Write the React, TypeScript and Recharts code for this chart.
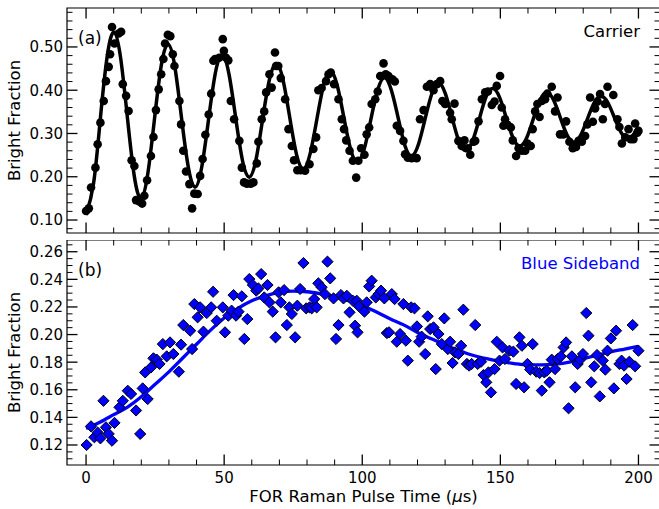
import React from "react";
import {
  ComposedChart,
  Line,
  Scatter,
  XAxis,
  YAxis,
  ReferenceArea,
} from "recharts";

const carrierTimes = [
  0.0, 1.0, 1.8, 3.4, 4.2, 5.2, 6.4, 7.2, 8.2, 8.7,
  9.4, 10.3, 11.8, 12.7, 13.3, 14.5, 15.4, 16.5, 17.5, 18.1,
  19.3, 20.3, 21.1, 22.1, 23.5, 24.4, 25.3, 26.3, 27.2, 28.0,
  28.6, 29.6, 30.5, 31.4, 32.0, 33.8, 34.4, 35.2, 36.2, 37.4,
  38.4, 39.2, 40.4, 41.3, 42.2, 43.2, 44.4, 45.3, 46.1, 46.7,
  48.2, 49.5, 49.9, 50.7, 51.5, 52.4, 53.6, 55.5, 56.4, 57.2,
  58.2, 59.6, 60.6, 61.8, 62.4, 63.6, 64.5, 65.2, 66.4, 67.2,
  68.4, 68.8, 69.6, 70.5, 72.1, 73.3, 74.5, 75.3, 76.5, 77.7,
  79.3, 80.9, 82.3, 83.3, 84.1, 85.3, 86.9, 87.8, 88.6, 89.8,
  91.4, 92.6, 93.4, 94.2, 95.4, 96.6, 97.8, 98.6, 99.6, 100.8,
  101.6, 102.5, 103.4, 104.7, 105.6, 106.5, 107.7, 108.5, 109.5, 110.9,
  111.8, 112.5, 113.7, 114.9, 115.5, 116.5, 117.9, 119.7, 120.9, 122.2,
  123.4, 124.6, 125.8, 127.0, 128.2, 129.0, 130.0, 131.8, 132.4, 133.4,
  134.8, 136.0, 137.0, 138.2, 139.1, 140.3, 140.9, 142.1, 143.3, 144.5,
  145.5, 146.9, 147.9, 148.7, 149.9, 150.5, 151.1, 151.7, 152.6, 153.8,
  154.5, 155.7, 156.6, 157.8, 159.0, 159.8, 161.0, 161.7, 162.6, 163.4,
  164.2, 165.0, 166.2, 167.0, 168.6, 169.8, 170.7, 171.6, 172.8, 173.8,
  175.0, 176.2, 177.4, 178.3, 179.5, 180.7, 181.5, 182.5, 183.5, 184.3,
  185.2, 186.1, 187.1, 187.9, 188.8, 190.9, 192.4, 193.1, 194.0, 195.2,
  196.4, 197.2, 198.2, 198.8, 199.6, 200.0,
];
const carrierValues = [
  0.121, 0.127, 0.175, 0.221, 0.275, 0.325, 0.375, 0.421, 0.454, 0.483,
  0.546, 0.508, 0.531, 0.535, 0.414, 0.387, 0.352, 0.238, 0.225, 0.146,
  0.143, 0.138, 0.156, 0.192, 0.248, 0.292, 0.354, 0.402, 0.437, 0.472,
  0.508, 0.528, 0.525, 0.483, 0.456, 0.375, 0.321, 0.26, 0.212, 0.183,
  0.127, 0.161, 0.16, 0.202, 0.241, 0.297, 0.344, 0.392, 0.468, 0.472,
  0.475, 0.518, 0.491, 0.475, 0.469, 0.375, 0.333, 0.283, 0.221, 0.187,
  0.184, 0.184, 0.187, 0.231, 0.281, 0.333, 0.351, 0.395, 0.437, 0.406,
  0.487, 0.456, 0.456, 0.428, 0.379, 0.31, 0.271, 0.238, 0.215, 0.215,
  0.214, 0.229, 0.264, 0.291, 0.4, 0.405, 0.421, 0.437, 0.441, 0.414,
  0.379, 0.333, 0.31, 0.284, 0.26, 0.237, 0.198, 0.237, 0.266, 0.251,
  0.298, 0.314, 0.368, 0.379, 0.397, 0.433, 0.462, 0.437, 0.433, 0.425,
  0.42, 0.318, 0.306, 0.283, 0.252, 0.244, 0.243, 0.243, 0.333, 0.354,
  0.408, 0.414, 0.4, 0.414, 0.421, 0.375, 0.368, 0.348, 0.333, 0.369,
  0.283, 0.271, 0.284, 0.266, 0.251, 0.281, 0.283, 0.328, 0.379, 0.395,
  0.397, 0.366, 0.374, 0.41, 0.433, 0.36, 0.318, 0.333, 0.32, 0.314,
  0.284, 0.248, 0.266, 0.26, 0.26, 0.277, 0.271, 0.31, 0.351, 0.368,
  0.338, 0.375, 0.379, 0.392, 0.408, 0.351, 0.383, 0.298, 0.298, 0.328,
  0.281, 0.266, 0.269, 0.283, 0.281, 0.294, 0.321, 0.383, 0.327, 0.358,
  0.374, 0.391, 0.333, 0.368, 0.408, 0.389, 0.333, 0.315, 0.277, 0.291,
  0.31, 0.287, 0.287, 0.323, 0.302, 0.306,
];

// carrier fit curve, sampled at its peaks, troughs and between
const carrierFitTimes = [
  0, 2.75, 5.2, 7.65, 10.1, 12.55, 15, 17.45, 19.9, 22.35,
  24.8, 27.25, 29.7, 32.15, 34.6, 37.05, 39.5, 41.95, 44.4, 46.85,
  49.3, 51.75, 54.2, 56.65, 59.1, 61.55, 64, 66.45, 68.9, 71.35,
  73.8, 76.25, 78.7, 81.15, 83.6, 86.05, 88.5, 90.95, 93.4, 95.85,
  98.3, 100.75, 103.2, 105.65, 108.1, 110.55, 113, 115.45, 117.9, 120.35,
  122.8, 125.25, 127.7, 130.15, 132.6, 135.05, 137.5, 139.95, 142.4, 144.85,
  147.3, 149.75, 152.2, 154.65, 157.1, 159.55, 162, 164.45, 166.9, 169.35,
  171.8, 174.25, 176.7, 179.15, 181.6, 184.05, 186.5, 188.95, 191.4, 193.85,
  196.3, 198.75, 200,
];
const carrierFitValues = [
  0.112, 0.186, 0.336, 0.478, 0.534, 0.473, 0.335, 0.202, 0.15, 0.207,
  0.335, 0.458, 0.506, 0.454, 0.334, 0.221, 0.176, 0.225, 0.335, 0.441,
  0.482, 0.437, 0.335, 0.237, 0.199, 0.24, 0.336, 0.426, 0.462, 0.423,
  0.335, 0.25, 0.218, 0.254, 0.334, 0.413, 0.444, 0.411, 0.335, 0.262,
  0.234, 0.265, 0.335, 0.402, 0.429, 0.4, 0.336, 0.272, 0.248, 0.275,
  0.335, 0.393, 0.416, 0.391, 0.335, 0.281, 0.26, 0.283, 0.334, 0.385,
  0.404, 0.383, 0.335, 0.289, 0.271, 0.29, 0.335, 0.378, 0.395, 0.376,
  0.335, 0.295, 0.28, 0.297, 0.335, 0.372, 0.386, 0.371, 0.335, 0.301,
  0.288, 0.302, 0.316,
];

// blue sideband (b): measured points
const sidebandTimes = [
  0.2, 1.8, 3.0, 4.2, 5.2, 6.3, 7.2, 8.2, 9.4, 10.3,
  12.1, 13.3, 15.1, 16.3, 18.1, 19.6, 20.5, 21.4, 22.3, 23.5,
  24.4, 25.6, 26.6, 27.8, 29.2, 30.4, 31.6, 33.6, 34.4, 35.2,
  37.7, 38.4, 39.2, 40.4, 41.3, 42.5, 43.7, 45.3, 46.0, 47.3,
  49.5, 50.3, 51.5, 52.7, 53.4, 54.3, 55.2, 56.4, 57.3, 58.4,
  59.1, 60.4, 61.6, 62.4, 63.4, 64.5, 65.7, 66.4, 67.6, 68.6,
  69.7, 70.5, 71.7, 72.7, 73.6, 74.5, 75.7, 76.5, 77.5, 78.7,
  79.7, 80.9, 81.7, 82.6, 83.5, 84.1, 85.3, 86.5, 87.4, 88.4,
  89.6, 90.5, 91.4, 92.3, 93.2, 94.4, 95.4, 96.6, 97.4, 98.0,
  98.3, 98.8, 100.8, 101.6, 102.5, 103.4, 104.9, 105.9, 106.8, 108.0,
  108.9, 109.7, 110.7, 111.7, 112.5, 113.7, 114.9, 115.8, 116.5, 117.7,
  118.9, 119.8, 120.6, 121.5, 122.8, 123.7, 124.6, 125.8, 126.6, 127.6,
  128.8, 129.7, 131.0, 131.8, 132.7, 133.6, 134.8, 135.8, 136.6, 137.9,
  138.7, 139.6, 140.9, 141.8, 143.0, 143.9, 144.9, 145.7, 146.6, 147.9,
  148.7, 149.7, 150.8, 151.7, 153.3, 154.7, 155.7, 156.9, 157.8, 158.6,
  159.8, 160.8, 161.7, 163.0, 164.2, 165.0, 165.9, 166.8, 167.8, 168.6,
  169.8, 170.7, 171.9, 172.9, 173.8, 174.7, 175.9, 177.1, 178.0, 178.9,
  179.9, 181.1, 181.9, 182.9, 184.0, 185.0, 186.0, 187.1, 188.0, 188.8,
  190.0, 191.1, 191.9, 193.1, 193.9, 194.8, 195.7, 196.7, 197.9, 198.8,
  200.0,
];
const sidebandValues = [
  0.12, 0.1335, 0.1256, 0.129, 0.1248, 0.152, 0.1328, 0.128, 0.1231, 0.136,
  0.1473, 0.152, 0.1593, 0.157, 0.145, 0.128, 0.161, 0.1726, 0.1533, 0.1762,
  0.1828, 0.1818, 0.1787, 0.1931, 0.1842, 0.1943, 0.1859, 0.1731, 0.1927, 0.2069,
  0.2028, 0.1895, 0.2221, 0.2125, 0.2197, 0.2021, 0.2156, 0.2197, 0.231, 0.21,
  0.2197, 0.2016, 0.2137, 0.2173, 0.2286, 0.2137, 0.2166, 0.2277, 0.1968, 0.2112,
  0.2402, 0.2359, 0.2318, 0.2334, 0.2438, 0.2269, 0.2359, 0.2233, 0.2166, 0.198,
  0.2306, 0.2233, 0.2322, 0.2069, 0.2197, 0.2149, 0.198, 0.2209, 0.233, 0.2518,
  0.219, 0.2197, 0.219, 0.2257, 0.2197, 0.2371, 0.2342, 0.2293, 0.2528, 0.2407,
  0.2262, 0.1968, 0.2069, 0.2286, 0.2262, 0.2281, 0.2161, 0.2245, 0.2064, 0.2245,
  0.2016, 0.2205, 0.2166, 0.2233, 0.2349, 0.239, 0.2269, 0.2293, 0.2318, 0.2262,
  0.2011, 0.2016, 0.2293, 0.2257, 0.1948, 0.2004, 0.2221, 0.1956, 0.1811, 0.2197,
  0.219, 0.2059, 0.1948, 0.1985, 0.1859, 0.2132, 0.204, 0.2052, 0.175, 0.2004,
  0.1931, 0.2117, 0.1895, 0.1948, 0.1794, 0.1871, 0.1859, 0.1919, 0.218, 0.1787,
  0.1775, 0.1787, 0.2069, 0.1787, 0.1803, 0.1707, 0.1654, 0.1726, 0.1581, 0.175,
  0.1948, 0.1811, 0.1907, 0.1823, 0.1883, 0.1876, 0.1642, 0.198, 0.1919, 0.1618,
  0.1787, 0.1746, 0.1931, 0.1731, 0.1721, 0.1594, 0.1726, 0.1738, 0.1654, 0.1818,
  0.175, 0.1823, 0.1842, 0.1907, 0.1943, 0.1466, 0.1842, 0.1618, 0.1787, 0.1818,
  0.1859, 0.2156, 0.1992, 0.1654, 0.177, 0.1852, 0.1552, 0.1811, 0.1746, 0.1883,
  0.1972, 0.161, 0.2028, 0.1787, 0.1811, 0.1775, 0.1678, 0.1803, 0.2069, 0.177,
  0.1883,
];

// blue sideband fit curve
const sidebandFitTimes = [
  0, 5, 10, 15, 20, 25, 30, 35, 40, 45,
  50, 55, 60, 65, 70, 75, 80, 85, 90, 95,
  100, 105, 110, 115, 120, 125, 130, 135, 140, 145,
  150, 155, 160, 165, 170, 175, 180, 185, 190, 195,
  200,
];
const sidebandFitValues = [
  0.132, 0.1365, 0.142, 0.1475, 0.155, 0.164, 0.173, 0.183, 0.193, 0.203,
  0.212, 0.219, 0.2245, 0.228, 0.2305, 0.2315, 0.231, 0.2295, 0.2275, 0.2245,
  0.221, 0.2165, 0.2115, 0.207, 0.2015, 0.197, 0.1925, 0.1885, 0.185, 0.1825,
  0.1805, 0.179, 0.178, 0.178, 0.1785, 0.18, 0.1825, 0.185, 0.1875, 0.1895,
  0.1915,
];

// axes
const timeDomain = [-6.9, 207.8];
const carrierDomain = [0.07, 0.59];
const sidebandDomain = [0.1055, 0.2685];
const timeMajorTicks = [0, 50, 100, 150, 200];
const timeMinorTicks = [10, 20, 30, 40, 60, 70, 80, 90, 110, 120, 130, 140, 160, 170, 180, 190];
const carrierMajorTicks = [0.1, 0.2, 0.3, 0.4, 0.5];
const carrierMinorTicks = [
  0.08, 0.12, 0.14, 0.16, 0.18, 0.22, 0.24, 0.26, 0.28, 0.32, 0.34,
  0.36, 0.38, 0.42, 0.44, 0.46, 0.48, 0.52, 0.54, 0.56, 0.58,
];
const sidebandMajorTicks = [0.12, 0.14, 0.16, 0.18, 0.2, 0.22, 0.24, 0.26];
const sidebandMinorTicks = [
  0.11, 0.115, 0.125, 0.13, 0.135, 0.145, 0.15, 0.155, 0.165, 0.17, 0.175,
  0.185, 0.19, 0.195, 0.205, 0.21, 0.215, 0.225, 0.23, 0.235, 0.245, 0.25,
  0.255, 0.265,
];

const FONT = "'DejaVu Sans', sans-serif";
const BLUE = "#0000ff";
const CHART_W = 660;
const PLOT_L = 67;
const PLOT_R = 660;
const MAJOR_LEN = 10.5;
const MINOR_LEN = 5.5;

const zip = (ts: number[], vs: number[]) => ts.map((t, i) => ({ t, v: vs[i] }));
const isIn = (list: number[], v: number) => list.some((m) => Math.abs(m - v) < 1e-9);

function makeYTick(majors: number[]) {
  return (props: any) => {
    const { y, payload } = props;
    const major = isIn(majors, payload.value);
    const len = major ? MAJOR_LEN : MINOR_LEN;
    const sw = major ? 1.3 : 1;
    return (
      <g>
        <line x1={PLOT_L} x2={PLOT_L + len} y1={y} y2={y} stroke="#000" strokeWidth={sw} />
        <line x1={PLOT_R - len} x2={PLOT_R} y1={y} y2={y} stroke="#000" strokeWidth={sw} />
        {major && (
          <text x={PLOT_L - 4} y={y} dy="0.36em" textAnchor="end" fontFamily={FONT} fontSize={15} fill="#000">
            {payload.value.toFixed(2)}
          </text>
        )}
      </g>
    );
  };
}

function makeXTick(plotTop: number, plotBottom: number, withLabels: boolean) {
  return (props: any) => {
    const { x, payload } = props;
    const major = isIn(timeMajorTicks, payload.value);
    const len = major ? MAJOR_LEN : MINOR_LEN;
    const sw = major ? 1.3 : 1;
    return (
      <g>
        <line x1={x} x2={x} y1={plotBottom} y2={plotBottom - len} stroke="#000" strokeWidth={sw} />
        <line x1={x} x2={x} y1={plotTop} y2={plotTop + len} stroke="#000" strokeWidth={sw} />
        {withLabels && major && (
          <text x={x} y={plotBottom + 18.3} textAnchor="middle" fontFamily={FONT} fontSize={15} fill="#000">
            {payload.value}
          </text>
        )}
      </g>
    );
  };
}

function yTitle(plotTop: number, plotBottom: number) {
  return () => {
    const cy = (plotTop + plotBottom) / 2;
    return (
      <text x={20} y={cy} transform={`rotate(-90, 20, ${cy})`} textAnchor="middle" fontFamily={FONT} fontSize={16.5} fill="#000">
        Bright Fraction
      </text>
    );
  };
}

function panelTags(tag: string, name: string, color: string, plotTop: number) {
  return () => (
    <g fontFamily={FONT}>
      <text x={PLOT_L + 11} y={plotTop + 35.5} fontSize={17} fill="#000">
        {tag}
      </text>
      <text x={PLOT_R - 20} y={plotTop + 29} textAnchor="end" fontSize={16.5} fill={color}>
        {name}
      </text>
    </g>
  );
}

const dotShape = (p: any) => <circle cx={p.cx} cy={p.cy} r={4.3} fill="#000" />;
const diamondShape = (p: any) => {
  const r = 5.6;
  return (
    <polygon
      points={`${p.cx},${p.cy - r} ${p.cx + r},${p.cy} ${p.cx},${p.cy + r} ${p.cx - r},${p.cy}`}
      fill={BLUE}
      stroke="#000"
      strokeWidth={1}
    />
  );
};

export default function App() {
  const carrier = zip(carrierTimes, carrierValues);
  const carrierFit = zip(carrierFitTimes, carrierFitValues);
  const sideband = zip(sidebandTimes, sidebandValues);
  const sidebandFit = zip(sidebandFitTimes, sidebandFitValues);

  const topPlotTop = 8;
  const topPlotBottom = 233;
  const botPlotTop = 0;
  const botPlotBottom = 225;

  return (
    <div style={{ position: "absolute", left: 0, top: 0, width: 659, height: 509, overflow: "hidden", background: "#fff" }}>
      <div style={{ position: "absolute", left: 0, top: 0 }}>
        <ComposedChart width={CHART_W} height={240} margin={{ top: topPlotTop, right: 0, bottom: 0, left: 0 }}>
          <XAxis
            dataKey="t"
            type="number"
            domain={timeDomain}
            allowDataOverflow
            ticks={[...timeMajorTicks, ...timeMinorTicks]}
            interval={0}
            height={7}
            axisLine={false}
            tickLine={false}
            tickSize={0}
            tick={makeXTick(topPlotTop, topPlotBottom, false)}
          />
          <YAxis
            dataKey="v"
            type="number"
            domain={carrierDomain}
            allowDataOverflow
            ticks={[...carrierMajorTicks, ...carrierMinorTicks]}
            interval={0}
            width={PLOT_L}
            axisLine={false}
            tickLine={false}
            tickSize={0}
            tick={makeYTick(carrierMajorTicks)}
            label={yTitle(topPlotTop, topPlotBottom)}
          />
          <ReferenceArea
            x1={timeDomain[0]}
            x2={timeDomain[1]}
            y1={carrierDomain[0]}
            y2={carrierDomain[1]}
            fill="none"
            stroke="#000"
            strokeWidth={1.2}
            fillOpacity={0}
            label={panelTags("(a)", "Carrier", "#000", topPlotTop)}
          />
          <Line data={carrierFit} dataKey="v" type="natural" stroke="#000" strokeWidth={3.5} dot={false} isAnimationActive={false} />
          <Scatter data={carrier} dataKey="v" shape={dotShape} isAnimationActive={false} />
        </ComposedChart>
      </div>
      <div style={{ position: "absolute", left: 0, top: 240 }}>
        <ComposedChart width={CHART_W} height={269} margin={{ top: botPlotTop, right: 0, bottom: 0, left: 0 }}>
          <XAxis
            dataKey="t"
            type="number"
            domain={timeDomain}
            allowDataOverflow
            ticks={[...timeMajorTicks, ...timeMinorTicks]}
            interval={0}
            height={44}
            axisLine={false}
            tickLine={false}
            tickSize={0}
            tick={makeXTick(botPlotTop, botPlotBottom, true)}
            label={() => (
              <text x={(PLOT_L + PLOT_R) / 2} y={botPlotBottom + 37} textAnchor="middle" fontFamily={FONT} fontSize={16.5} fill="#000">
                FOR Raman Pulse Time (<tspan fontStyle="italic">μ</tspan>s)
              </text>
            )}
          />
          <YAxis
            dataKey="v"
            type="number"
            domain={sidebandDomain}
            allowDataOverflow
            ticks={[...sidebandMajorTicks, ...sidebandMinorTicks]}
            interval={0}
            width={PLOT_L}
            axisLine={false}
            tickLine={false}
            tickSize={0}
            tick={makeYTick(sidebandMajorTicks)}
            label={yTitle(botPlotTop, botPlotBottom)}
          />
          <ReferenceArea
            x1={timeDomain[0]}
            x2={timeDomain[1]}
            y1={sidebandDomain[0]}
            y2={sidebandDomain[1]}
            fill="none"
            stroke="#000"
            strokeWidth={1.2}
            fillOpacity={0}
            label={panelTags("(b)", "Blue Sideband", BLUE, botPlotTop)}
          />
          <Line data={sidebandFit} dataKey="v" type="monotone" stroke={BLUE} strokeWidth={3.3} dot={false} isAnimationActive={false} />
          <Scatter data={sideband} dataKey="v" shape={diamondShape} isAnimationActive={false} />
        </ComposedChart>
      </div>
    </div>
  );
}
